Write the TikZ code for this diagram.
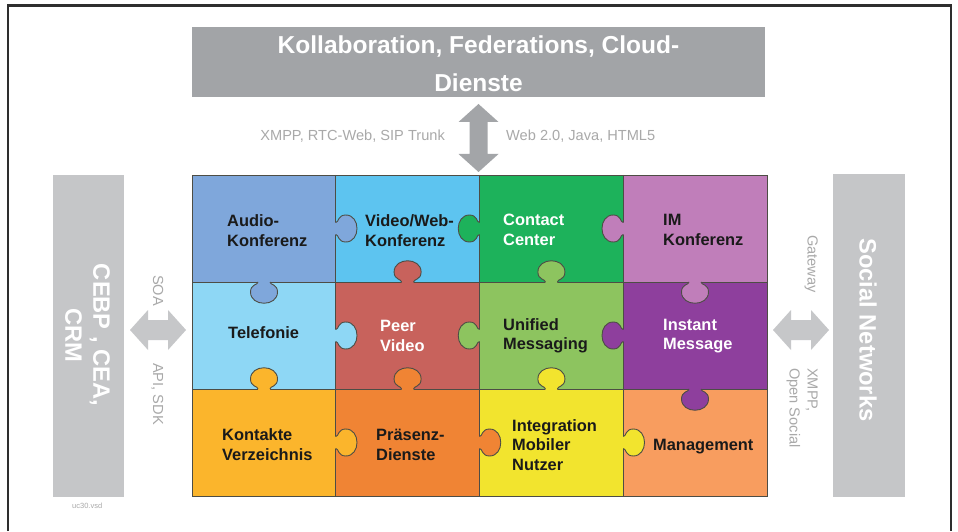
\documentclass[tikz,border=0pt]{standalone}
\usepackage{fontspec}
\setmainfont{Liberation Sans}
\usetikzlibrary{calc}
\definecolor{cAudio}{HTML}{7FA7DB}
\definecolor{cVideo}{HTML}{5DC4F0}
\definecolor{cContact}{HTML}{1DB25B}
\definecolor{cIM}{HTML}{C07EBA}
\definecolor{cTel}{HTML}{8ED7F5}
\definecolor{cPeer}{HTML}{C8625C}
\definecolor{cUnified}{HTML}{8DC45F}
\definecolor{cInstant}{HTML}{8E3F9D}
\definecolor{cKontakte}{HTML}{FBB52C}
\definecolor{cPraesenz}{HTML}{F08434}
\definecolor{cIntegr}{HTML}{F2E42E}
\definecolor{cMgmt}{HTML}{F89D5F}
\definecolor{cEdge}{HTML}{4D4D45}
\definecolor{cDarkBox}{HTML}{A2A4A7}
\definecolor{cLightBox}{HTML}{C5C6C8}
\definecolor{cDarkArrow}{HTML}{A3A5A8}
\definecolor{cLightArrow}{HTML}{C6C7C9}
\definecolor{cLabel}{HTML}{A9A9A9}
\definecolor{cTxt}{HTML}{1A1A1A}
\definecolor{cFrame}{HTML}{2E2E2E}
\begin{document}
\begin{tikzpicture}[x=1pt,y=1pt,
  piece/.style={draw=none, inner sep=0pt, outer sep=0pt, minimum width=143.75pt, minimum height=107pt, anchor=north west},
  gridline/.style={draw=cEdge, line width=0.9pt},
  ptext/.style={font=\fontsize{16.4}{19.5}\selectfont\bfseries, align=left, inner sep=0pt, anchor=base west, text=cTxt},
  wtext/.style={ptext, text=white},
  graybox/.style={inner sep=0pt, outer sep=0pt, anchor=north west},
  boxtext/.style={font=\fontsize{23.7}{28}\selectfont\bfseries, text=white, align=center, inner sep=0pt},
  lbl/.style={font=\fontsize{14.6}{18}\selectfont, text=cLabel, inner sep=0pt},
  pics/knob/.style={code={
    \fill[#1] (-6,-1.5) -- (-6,0) .. controls (-6,3) and (-13.5,2) .. (-13.5,10)
      .. controls (-13.5,25) and (13.5,25) .. (13.5,10)
      .. controls (13.5,2) and (6,3) .. (6,0) -- (6,-1.5) -- cycle;
    \draw[gridline] (-6,0) .. controls (-6,3) and (-13.5,2) .. (-13.5,10)
      .. controls (-13.5,25) and (13.5,25) .. (13.5,10)
      .. controls (13.5,2) and (6,3) .. (6,0);
  }}
]
\useasboundingbox (0,0) rectangle (958,531);
\fill[white] (0,0) rectangle (958,531);
% frame
\draw[cFrame, line width=2.6pt] (8,0) -- (8,525.5) -- (951,525.5) -- (951,0);

% gray boxes
\node[graybox, fill=cDarkBox, minimum width=573pt, minimum height=70pt] (top) at (192,504) {};
\node[boxtext, font=\fontsize{24.5}{37.5}\selectfont\bfseries, anchor=base] (topT) at (478.5,439.5)
  {Kollaboration, Federations, Cloud-\\Dienste};
\node[graybox, fill=cLightBox, minimum width=71pt, minimum height=322pt] (left) at (53,356) {};
\node[boxtext, rotate=-90] (leftT) at (87.5,196) {CEBP , CEA,\\CRM};
\node[graybox, fill=cLightBox, minimum width=72pt, minimum height=323pt] (right) at (833,357) {};
\node[boxtext, rotate=-90] (rightT) at (868,201) {Social Networks};

% arrows
\fill[cDarkArrow] (478.5,427) -- (498.5,409) -- (487.5,409) -- (487.5,377) -- (498.5,377)
  -- (478.5,359) -- (458.5,377) -- (469.5,377) -- (469.5,409) -- (458.5,409) -- cycle;
\fill[cLightArrow] (130,201) -- (148,221) -- (148,211) -- (168,211) -- (168,221)
  -- (186,201) -- (168,181) -- (168,191) -- (148,191) -- (148,181) -- cycle;
\fill[cLightArrow] (773,201) -- (791,221) -- (791,211) -- (811,211) -- (811,221)
  -- (829,201) -- (811,181) -- (811,191) -- (791,191) -- (791,181) -- cycle;

% arrow labels
\node[lbl, anchor=base east] (l1) at (445,390) {XMPP, RTC-Web, SIP Trunk};
\node[lbl, anchor=base west] (l2) at (506,390) {Web 2.0, Java, HTML5};
\node[lbl, rotate=-90, anchor=base west] (l3) at (153,256) {SOA};
\node[lbl, rotate=-90, anchor=base west] (l4) at (153,168) {API, SDK};
\node[lbl, rotate=-90, anchor=base west] (l5) at (807.5,296) {Gateway};
\node[lbl, rotate=-90, anchor=base west, align=left] (l6) at (789.5,163) {XMPP,\\Open Social};
\node[font=\fontsize{7.5}{9}\selectfont, text=cLabel, inner sep=0pt, anchor=base west] (uc) at (72,23) {uc30.vsd};

% puzzle pieces
\node[piece, fill=cAudio] (p00) at (192,356) {};
\node[piece, fill=cVideo] (p10) at (335.75,356) {};
\node[piece, fill=cContact] (p20) at (479.5,356) {};
\node[piece, fill=cIM] (p30) at (623.25,356) {};
\node[piece, fill=cTel] (p01) at (192,249) {};
\node[piece, fill=cPeer] (p11) at (335.75,249) {};
\node[piece, fill=cUnified] (p21) at (479.5,249) {};
\node[piece, fill=cInstant] (p31) at (623.25,249) {};
\node[piece, fill=cKontakte] (p02) at (192,142) {};
\node[piece, fill=cPraesenz] (p12) at (335.75,142) {};
\node[piece, fill=cIntegr] (p22) at (479.5,142) {};
\node[piece, fill=cMgmt] (p32) at (623.25,142) {};

% grid lines
\draw[gridline] (p00.north west) rectangle (p32.south east);
\draw[gridline] (p00.north east) -- (p02.south east);
\draw[gridline] (p10.north east) -- (p12.south east);
\draw[gridline] (p20.north east) -- (p22.south east);
\draw[gridline] (p00.south west) -- (p30.south east);
\draw[gridline] (p01.south west) -- (p31.south east);

% knobs: vertical boundaries
\pic[rotate=-90] at (335.75,302.5) {knob=cAudio};
\pic[rotate=90] at (479.5,302.5) {knob=cContact};
\pic[rotate=90] at (623.25,302.5) {knob=cIM};
\pic[rotate=-90] at (335.75,195.5) {knob=cTel};
\pic[rotate=90] at (479.5,195.5) {knob=cUnified};
\pic[rotate=90] at (623.25,195.5) {knob=cInstant};
\pic[rotate=-90] at (335.75,88.5) {knob=cKontakte};
\pic[rotate=-90] at (479.5,88.5) {knob=cPraesenz};
\pic[rotate=-90] at (623.25,88.5) {knob=cIntegr};
% knobs: horizontal boundaries
\pic[rotate=180] at (264,249) {knob=cAudio};
\pic at (407.6,249) {knob=cPeer};
\pic at (551.4,249) {knob=cUnified};
\pic[rotate=180] at (695,249) {knob=cIM};
\pic at (264,142) {knob=cKontakte};
\pic at (407.6,142) {knob=cPraesenz};
\pic at (551.4,142) {knob=cIntegr};
\pic[rotate=180] at (695,142) {knob=cInstant};

% texts (anchor = baseline of the last line)
\node[ptext] (t00) at (227,285) {Audio-\\Konferenz};
\node[ptext] (t10) at (365,285) {Video/Web-\\Konferenz};
\node[wtext] (t20) at (503,286) {Contact\\Center};
\node[ptext] (t30) at (663,286) {IM\\Konferenz};
\node[ptext] (t01) at (228,192.5) {Telefonie};
\node[wtext] (t11) at (380,180) {Peer\\Video};
\node[ptext] (t21) at (503,181.5) {Unified\\Messaging};
\node[wtext] (t31) at (663,181.5) {Instant\\Message};
\node[ptext] (t02) at (222,71) {Kontakte\\Verzeichnis};
\node[ptext] (t12) at (376,71) {Präsenz-\\Dienste};
\node[ptext] (t22) at (512,61) {Integration\\Mobiler\\Nutzer};
\node[ptext] (t32) at (653,81) {Management};
\end{tikzpicture}
\end{document}
